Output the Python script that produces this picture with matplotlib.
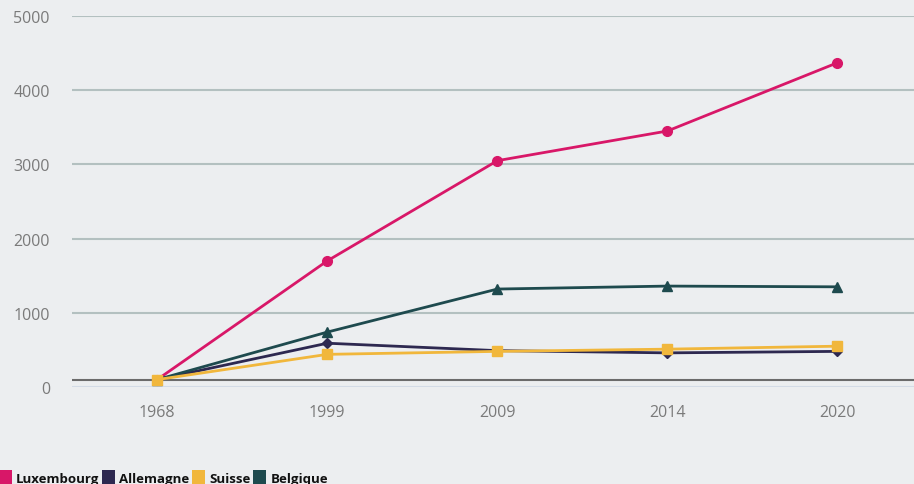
import matplotlib.pyplot as plt
from matplotlib.patches import Patch

years = ['1968', '1999', '2009', '2014', '2020']
luxembourg = [100, 1700, 3050, 3450, 4370]
allemagne = [100, 590, 490, 460, 480]
suisse = [100, 440, 480, 510, 550]
belgique = [100, 740, 1320, 1360, 1350]
yticks = [0, 1000, 2000, 3000, 4000, 5000]

bg = '#eceef0'
colors = {'Luxembourg': '#d81768', 'Allemagne': '#2d2850',
          'Suisse': '#f1b73c', 'Belgique': '#1e4a4e'}

plt.rcParams['font.family'] = ['Open Sans', 'DejaVu Sans']

fig = plt.figure(figsize=(9.14, 4.85), dpi=100, facecolor=bg)
ax = fig.add_axes([0.079, 0.2, 0.921, 0.765], facecolor=bg)

x = range(len(years))
for y in yticks[1:]:
    ax.axhline(y, color='#b3c0c0', lw=1.5, zorder=0)
ax.axhline(0, color='#d3dbe6', lw=1.5, zorder=0)
ax.axhline(90, color='#6b6b6b', lw=1.5, zorder=1)

ax.plot(x, luxembourg, color=colors['Luxembourg'], lw=2, marker='o', ms=7, zorder=3)
ax.plot(x, allemagne, color=colors['Allemagne'], lw=2, marker='D', ms=5, zorder=3)
ax.plot(x, suisse, color=colors['Suisse'], lw=2, marker='s', ms=7, zorder=4)
ax.plot(x, belgique, color=colors['Belgique'], lw=2, marker='^', ms=7, zorder=3)

ax.set_xlim(-0.5, 4.45)
ax.set_ylim(0, 5000)
ax.set_xticks(list(x))
ax.set_xticklabels(years)
ax.set_yticks(yticks)
ax.tick_params(length=0, labelsize=11.5, colors='#7a7a7a')
ax.tick_params(axis='x', pad=12)
ax.tick_params(axis='y', pad=16)
for s in ax.spines.values():
    s.set_visible(False)

handles = [Patch(facecolor=c, edgecolor='none', label=k) for k, c in colors.items()]
leg = fig.legend(handles=handles, loc='lower left', bbox_to_anchor=(-0.007, -0.014),
                 ncol=4, frameon=False, handlelength=1.0, handleheight=1.4,
                 handletextpad=0.3, columnspacing=0.2, borderaxespad=0,
                 prop={'size': 9.5, 'weight': 'bold'})
for t in leg.get_texts():
    t.set_color('#111111')

fig.savefig('out.png', facecolor=bg)
